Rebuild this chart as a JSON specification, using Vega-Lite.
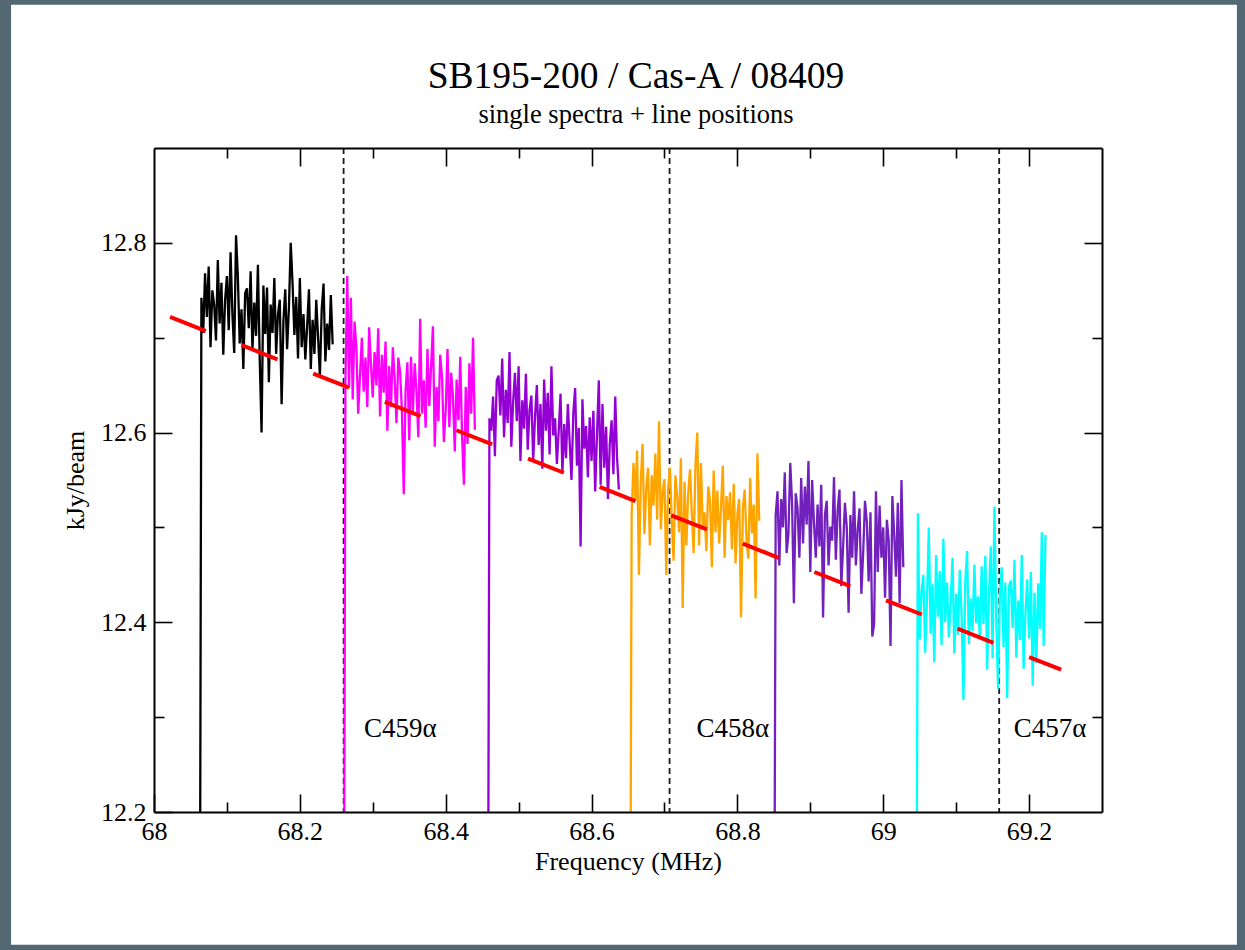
{
  "$schema": "https://vega.github.io/schema/vega-lite/v6.json",
  "width": 948,
  "height": 664,
  "autosize": {"type": "none"},
  "padding": {"left": 154, "top": 148, "right": 143, "bottom": 138},
  "background": "#526973",
  "title": {
    "text": "SB195-200 / Cas-A / 08409",
    "subtitle": "single spectra + line positions",
    "anchor": "middle",
    "font": "Liberation Serif",
    "fontSize": 37.5,
    "fontWeight": "normal",
    "color": "#000000",
    "subtitleFont": "Liberation Serif",
    "subtitleFontSize": 26.5,
    "subtitleColor": "#000000",
    "subtitlePadding": 7,
    "offset": -124,
    "dx": 8,
    "zindex": 1
  },
  "config": {
    "view": {"stroke": null},
    "axis": {
      "zindex": 1,
      "grid": false,
      "domainColor": "#000000",
      "domainWidth": 2,
      "tickColor": "#000000",
      "tickWidth": 1.6,
      "labelFont": "Liberation Serif",
      "labelFontSize": 26,
      "labelColor": "#000000",
      "labelFlush": false,
      "titleFont": "Liberation Serif",
      "titleFontSize": 26,
      "titleFontWeight": "normal",
      "titleColor": "#000000"
    }
  },
  "datasets": {
    "lines": [{"f": 68.26}, {"f": 68.707}, {"f": 69.159}],
    "fit": [{"f": 68.022, "v": 12.722}, {"f": 69.244, "v": 12.35}],
    "labels": [
      {"f": 68.288, "v": 12.279, "t": "C459α"},
      {"f": 68.744, "v": 12.279, "t": "C458α"},
      {"f": 69.179, "v": 12.279, "t": "C457α"}
    ],
    "spectra": [
      {"s":"A","f":68.0625,"v":11.9},{"s":"A","f":68.065,"v":12.742},{"s":"A","f":68.0675,"v":12.705},{"s":"A","f":68.07,"v":12.768},{"s":"A","f":68.0725,"v":12.722},{"s":"A","f":68.075,"v":12.775},{"s":"A","f":68.0775,"v":12.69},{"s":"A","f":68.08,"v":12.75},{"s":"A","f":68.0825,"v":12.735},{"s":"A","f":68.085,"v":12.697},{"s":"A","f":68.0875,"v":12.782},{"s":"A","f":68.09,"v":12.715},{"s":"A","f":68.0925,"v":12.758},{"s":"A","f":68.095,"v":12.682},{"s":"A","f":68.0975,"v":12.74},{"s":"A","f":68.1,"v":12.765},{"s":"A","f":68.1025,"v":12.708},{"s":"A","f":68.105,"v":12.79},{"s":"A","f":68.1075,"v":12.725},{"s":"A","f":68.11,"v":12.684},{"s":"A","f":68.1125,"v":12.808},{"s":"A","f":68.115,"v":12.764},{"s":"A","f":68.1175,"v":12.694},{"s":"A","f":68.12,"v":12.73},{"s":"A","f":68.1225,"v":12.667},{"s":"A","f":68.125,"v":12.747},{"s":"A","f":68.1275,"v":12.752},{"s":"A","f":68.13,"v":12.71},{"s":"A","f":68.1325,"v":12.77},{"s":"A","f":68.135,"v":12.687},{"s":"A","f":68.1375,"v":12.737},{"s":"A","f":68.14,"v":12.702},{"s":"A","f":68.1425,"v":12.777},{"s":"A","f":68.145,"v":12.677},{"s":"A","f":68.1475,"v":12.6},{"s":"A","f":68.15,"v":12.755},{"s":"A","f":68.1525,"v":12.704},{"s":"A","f":68.155,"v":12.753},{"s":"A","f":68.1575,"v":12.653},{"s":"A","f":68.16,"v":12.735},{"s":"A","f":68.1625,"v":12.705},{"s":"A","f":68.165,"v":12.763},{"s":"A","f":68.1675,"v":12.683},{"s":"A","f":68.17,"v":12.725},{"s":"A","f":68.1725,"v":12.74},{"s":"A","f":68.175,"v":12.63},{"s":"A","f":68.1775,"v":12.718},{"s":"A","f":68.18,"v":12.751},{"s":"A","f":68.1825,"v":12.688},{"s":"A","f":68.185,"v":12.731},{"s":"A","f":68.1875,"v":12.8},{"s":"A","f":68.19,"v":12.757},{"s":"A","f":68.1925,"v":12.703},{"s":"A","f":68.195,"v":12.743},{"s":"A","f":68.1975,"v":12.678},{"s":"A","f":68.2,"v":12.763},{"s":"A","f":68.2025,"v":12.69},{"s":"A","f":68.205,"v":12.725},{"s":"A","f":68.2075,"v":12.677},{"s":"A","f":68.21,"v":12.712},{"s":"A","f":68.2125,"v":12.751},{"s":"A","f":68.215,"v":12.667},{"s":"A","f":68.2175,"v":12.719},{"s":"A","f":68.22,"v":12.683},{"s":"A","f":68.2225,"v":12.74},{"s":"A","f":68.225,"v":12.7},{"s":"A","f":68.2275,"v":12.66},{"s":"A","f":68.23,"v":12.73},{"s":"A","f":68.2325,"v":12.757},{"s":"A","f":68.235,"v":12.675},{"s":"A","f":68.2375,"v":12.715},{"s":"A","f":68.24,"v":12.687},{"s":"A","f":68.2425,"v":12.745},{"s":"A","f":68.245,"v":12.693},
      {"s":"B","f":68.26,"v":11.9},{"s":"B","f":68.2625,"v":12.653},{"s":"B","f":68.265,"v":12.765},{"s":"B","f":68.2675,"v":12.647},{"s":"B","f":68.27,"v":12.742},{"s":"B","f":68.2725,"v":12.635},{"s":"B","f":68.275,"v":12.717},{"s":"B","f":68.2775,"v":12.69},{"s":"B","f":68.28,"v":12.62},{"s":"B","f":68.2825,"v":12.66},{"s":"B","f":68.285,"v":12.7},{"s":"B","f":68.2875,"v":12.643},{"s":"B","f":68.29,"v":12.679},{"s":"B","f":68.2925,"v":12.627},{"s":"B","f":68.295,"v":12.711},{"s":"B","f":68.2975,"v":12.672},{"s":"B","f":68.3,"v":12.637},{"s":"B","f":68.3025,"v":12.685},{"s":"B","f":68.305,"v":12.65},{"s":"B","f":68.3075,"v":12.71},{"s":"B","f":68.31,"v":12.617},{"s":"B","f":68.3125,"v":12.682},{"s":"B","f":68.315,"v":12.642},{"s":"B","f":68.3175,"v":12.696},{"s":"B","f":68.32,"v":12.602},{"s":"B","f":68.3225,"v":12.67},{"s":"B","f":68.325,"v":12.627},{"s":"B","f":68.3275,"v":12.69},{"s":"B","f":68.33,"v":12.657},{"s":"B","f":68.3325,"v":12.61},{"s":"B","f":68.335,"v":12.679},{"s":"B","f":68.3375,"v":12.664},{"s":"B","f":68.34,"v":12.622},{"s":"B","f":68.3425,"v":12.535},{"s":"B","f":68.345,"v":12.644},{"s":"B","f":68.3475,"v":12.674},{"s":"B","f":68.35,"v":12.592},{"s":"B","f":68.3525,"v":12.68},{"s":"B","f":68.355,"v":12.622},{"s":"B","f":68.3575,"v":12.673},{"s":"B","f":68.36,"v":12.643},{"s":"B","f":68.3625,"v":12.595},{"s":"B","f":68.365,"v":12.72},{"s":"B","f":68.3675,"v":12.62},{"s":"B","f":68.37,"v":12.655},{"s":"B","f":68.3725,"v":12.605},{"s":"B","f":68.375,"v":12.688},{"s":"B","f":68.3775,"v":12.628},{"s":"B","f":68.38,"v":12.67},{"s":"B","f":68.3825,"v":12.712},{"s":"B","f":68.385,"v":12.585},{"s":"B","f":68.3875,"v":12.648},{"s":"B","f":68.39,"v":12.612},{"s":"B","f":68.3925,"v":12.682},{"s":"B","f":68.395,"v":12.658},{"s":"B","f":68.3975,"v":12.59},{"s":"B","f":68.4,"v":12.623},{"s":"B","f":68.4025,"v":12.688},{"s":"B","f":68.405,"v":12.606},{"s":"B","f":68.4075,"v":12.663},{"s":"B","f":68.41,"v":12.638},{"s":"B","f":68.4125,"v":12.58},{"s":"B","f":68.415,"v":12.656},{"s":"B","f":68.4175,"v":12.613},{"s":"B","f":68.42,"v":12.68},{"s":"B","f":68.4225,"v":12.595},{"s":"B","f":68.425,"v":12.545},{"s":"B","f":68.4275,"v":12.648},{"s":"B","f":68.43,"v":12.588},{"s":"B","f":68.4325,"v":12.673},{"s":"B","f":68.435,"v":12.62},{"s":"B","f":68.4375,"v":12.7},{"s":"B","f":68.44,"v":12.603},
      {"s":"C","f":68.4575,"v":11.9},{"s":"C","f":68.46,"v":12.615},{"s":"C","f":68.4625,"v":12.602},{"s":"C","f":68.465,"v":12.638},{"s":"C","f":68.4675,"v":12.575},{"s":"C","f":68.47,"v":12.655},{"s":"C","f":68.4725,"v":12.66},{"s":"C","f":68.475,"v":12.618},{"s":"C","f":68.4775,"v":12.678},{"s":"C","f":68.48,"v":12.595},{"s":"C","f":68.4825,"v":12.645},{"s":"C","f":68.485,"v":12.61},{"s":"C","f":68.4875,"v":12.685},{"s":"C","f":68.49,"v":12.585},{"s":"C","f":68.4925,"v":12.633},{"s":"C","f":68.495,"v":12.663},{"s":"C","f":68.4975,"v":12.612},{"s":"C","f":68.5,"v":12.67},{"s":"C","f":68.5025,"v":12.57},{"s":"C","f":68.505,"v":12.634},{"s":"C","f":68.5075,"v":12.604},{"s":"C","f":68.51,"v":12.662},{"s":"C","f":68.5125,"v":12.582},{"s":"C","f":68.515,"v":12.624},{"s":"C","f":68.5175,"v":12.639},{"s":"C","f":68.52,"v":12.57},{"s":"C","f":68.5225,"v":12.617},{"s":"C","f":68.525,"v":12.65},{"s":"C","f":68.5275,"v":12.587},{"s":"C","f":68.53,"v":12.63},{"s":"C","f":68.5325,"v":12.562},{"s":"C","f":68.535,"v":12.656},{"s":"C","f":68.5375,"v":12.602},{"s":"C","f":68.54,"v":12.642},{"s":"C","f":68.5425,"v":12.577},{"s":"C","f":68.545,"v":12.67},{"s":"C","f":68.5475,"v":12.597},{"s":"C","f":68.55,"v":12.615},{"s":"C","f":68.5525,"v":12.567},{"s":"C","f":68.555,"v":12.602},{"s":"C","f":68.5575,"v":12.641},{"s":"C","f":68.56,"v":12.557},{"s":"C","f":68.5625,"v":12.609},{"s":"C","f":68.565,"v":12.573},{"s":"C","f":68.5675,"v":12.63},{"s":"C","f":68.57,"v":12.59},{"s":"C","f":68.5725,"v":12.55},{"s":"C","f":68.575,"v":12.62},{"s":"C","f":68.5775,"v":12.647},{"s":"C","f":68.58,"v":12.565},{"s":"C","f":68.5825,"v":12.605},{"s":"C","f":68.585,"v":12.48},{"s":"C","f":68.5875,"v":12.635},{"s":"C","f":68.59,"v":12.583},{"s":"C","f":68.5925,"v":12.607},{"s":"C","f":68.595,"v":12.553},{"s":"C","f":68.5975,"v":12.616},{"s":"C","f":68.6,"v":12.57},{"s":"C","f":68.6025,"v":12.623},{"s":"C","f":68.605,"v":12.538},{"s":"C","f":68.6075,"v":12.598},{"s":"C","f":68.61,"v":12.655},{"s":"C","f":68.6125,"v":12.545},{"s":"C","f":68.615,"v":12.63},{"s":"C","f":68.6175,"v":12.563},{"s":"C","f":68.62,"v":12.606},{"s":"C","f":68.6225,"v":12.53},{"s":"C","f":68.625,"v":12.588},{"s":"C","f":68.6275,"v":12.613},{"s":"C","f":68.63,"v":12.556},{"s":"C","f":68.6325,"v":12.638},{"s":"C","f":68.635,"v":12.573},{"s":"C","f":68.6375,"v":12.54},
      {"s":"D","f":68.6525,"v":11.9},{"s":"D","f":68.655,"v":12.513},{"s":"D","f":68.6575,"v":12.568},{"s":"D","f":68.66,"v":12.528},{"s":"D","f":68.6625,"v":12.581},{"s":"D","f":68.665,"v":12.45},{"s":"D","f":68.6675,"v":12.548},{"s":"D","f":68.67,"v":12.588},{"s":"D","f":68.6725,"v":12.493},{"s":"D","f":68.675,"v":12.541},{"s":"D","f":68.6775,"v":12.563},{"s":"D","f":68.68,"v":12.481},{"s":"D","f":68.6825,"v":12.555},{"s":"D","f":68.685,"v":12.523},{"s":"D","f":68.6875,"v":12.578},{"s":"D","f":68.69,"v":12.508},{"s":"D","f":68.6925,"v":12.612},{"s":"D","f":68.695,"v":12.498},{"s":"D","f":68.6975,"v":12.538},{"s":"D","f":68.7,"v":12.551},{"s":"D","f":68.7025,"v":12.45},{"s":"D","f":68.705,"v":12.541},{"s":"D","f":68.7075,"v":12.563},{"s":"D","f":68.71,"v":12.508},{"s":"D","f":68.7125,"v":12.465},{"s":"D","f":68.715,"v":12.555},{"s":"D","f":68.7175,"v":12.533},{"s":"D","f":68.72,"v":12.495},{"s":"D","f":68.7225,"v":12.573},{"s":"D","f":68.725,"v":12.415},{"s":"D","f":68.7275,"v":12.548},{"s":"D","f":68.73,"v":12.481},{"s":"D","f":68.7325,"v":12.535},{"s":"D","f":68.735,"v":12.561},{"s":"D","f":68.7375,"v":12.515},{"s":"D","f":68.74,"v":12.473},{"s":"D","f":68.7425,"v":12.565},{"s":"D","f":68.745,"v":12.6},{"s":"D","f":68.7475,"v":12.481},{"s":"D","f":68.75,"v":12.568},{"s":"D","f":68.7525,"v":12.501},{"s":"D","f":68.755,"v":12.516},{"s":"D","f":68.7575,"v":12.475},{"s":"D","f":68.76,"v":12.543},{"s":"D","f":68.7625,"v":12.528},{"s":"D","f":68.765,"v":12.458},{"s":"D","f":68.7675,"v":12.56},{"s":"D","f":68.77,"v":12.495},{"s":"D","f":68.7725,"v":12.539},{"s":"D","f":68.775,"v":12.483},{"s":"D","f":68.7775,"v":12.521},{"s":"D","f":68.78,"v":12.565},{"s":"D","f":68.7825,"v":12.468},{"s":"D","f":68.785,"v":12.533},{"s":"D","f":68.7875,"v":12.508},{"s":"D","f":68.79,"v":12.537},{"s":"D","f":68.7925,"v":12.477},{"s":"D","f":68.795,"v":12.546},{"s":"D","f":68.7975,"v":12.462},{"s":"D","f":68.8,"v":12.514},{"s":"D","f":68.8025,"v":12.53},{"s":"D","f":68.805,"v":12.405},{"s":"D","f":68.8075,"v":12.52},{"s":"D","f":68.81,"v":12.54},{"s":"D","f":68.8125,"v":12.487},{"s":"D","f":68.815,"v":12.467},{"s":"D","f":68.8175,"v":12.552},{"s":"D","f":68.82,"v":12.494},{"s":"D","f":68.8225,"v":12.524},{"s":"D","f":68.825,"v":12.425},{"s":"D","f":68.8275,"v":12.578},{"s":"D","f":68.83,"v":12.507},
      {"s":"E","f":68.85,"v":11.9},{"s":"E","f":68.8525,"v":12.513},{"s":"E","f":68.855,"v":12.538},{"s":"E","f":68.8575,"v":12.46},{"s":"E","f":68.86,"v":12.53},{"s":"E","f":68.8625,"v":12.5},{"s":"E","f":68.865,"v":12.558},{"s":"E","f":68.8675,"v":12.473},{"s":"E","f":68.87,"v":12.493},{"s":"E","f":68.8725,"v":12.568},{"s":"E","f":68.875,"v":12.526},{"s":"E","f":68.8775,"v":12.42},{"s":"E","f":68.88,"v":12.536},{"s":"E","f":68.8825,"v":12.52},{"s":"E","f":68.885,"v":12.468},{"s":"E","f":68.8875,"v":12.552},{"s":"E","f":68.89,"v":12.483},{"s":"E","f":68.8925,"v":12.543},{"s":"E","f":68.895,"v":12.503},{"s":"E","f":68.8975,"v":12.57},{"s":"E","f":68.9,"v":12.453},{"s":"E","f":68.9025,"v":12.55},{"s":"E","f":68.905,"v":12.506},{"s":"E","f":68.9075,"v":12.468},{"s":"E","f":68.91,"v":12.524},{"s":"E","f":68.9125,"v":12.48},{"s":"E","f":68.915,"v":12.545},{"s":"E","f":68.9175,"v":12.405},{"s":"E","f":68.92,"v":12.513},{"s":"E","f":68.9225,"v":12.528},{"s":"E","f":68.925,"v":12.46},{"s":"E","f":68.9275,"v":12.501},{"s":"E","f":68.93,"v":12.486},{"s":"E","f":68.9325,"v":12.553},{"s":"E","f":68.935,"v":12.466},{"s":"E","f":68.9375,"v":12.518},{"s":"E","f":68.94,"v":12.54},{"s":"E","f":68.9425,"v":12.438},{"s":"E","f":68.945,"v":12.48},{"s":"E","f":68.9475,"v":12.526},{"s":"E","f":68.95,"v":12.5},{"s":"E","f":68.9525,"v":12.41},{"s":"E","f":68.955,"v":12.513},{"s":"E","f":68.9575,"v":12.468},{"s":"E","f":68.96,"v":12.538},{"s":"E","f":68.9625,"v":12.46},{"s":"E","f":68.965,"v":12.498},{"s":"E","f":68.9675,"v":12.52},{"s":"E","f":68.97,"v":12.43},{"s":"E","f":68.9725,"v":12.473},{"s":"E","f":68.975,"v":12.528},{"s":"E","f":68.9775,"v":12.506},{"s":"E","f":68.98,"v":12.443},{"s":"E","f":68.9825,"v":12.516},{"s":"E","f":68.985,"v":12.385},{"s":"E","f":68.9875,"v":12.398},{"s":"E","f":68.99,"v":12.538},{"s":"E","f":68.9925,"v":12.453},{"s":"E","f":68.995,"v":12.523},{"s":"E","f":68.9975,"v":12.468},{"s":"E","f":69.0,"v":12.5},{"s":"E","f":69.0025,"v":12.426},{"s":"E","f":69.005,"v":12.508},{"s":"E","f":69.0075,"v":12.486},{"s":"E","f":69.01,"v":12.375},{"s":"E","f":69.0125,"v":12.533},{"s":"E","f":69.015,"v":12.493},{"s":"E","f":69.0175,"v":12.448},{"s":"E","f":69.02,"v":12.526},{"s":"E","f":69.0225,"v":12.42},{"s":"E","f":69.025,"v":12.55},{"s":"E","f":69.0275,"v":12.458},
      {"s":"F","f":69.045,"v":11.9},{"s":"F","f":69.0475,"v":12.515},{"s":"F","f":69.05,"v":12.382},{"s":"F","f":69.0525,"v":12.432},{"s":"F","f":69.055,"v":12.45},{"s":"F","f":69.0575,"v":12.368},{"s":"F","f":69.06,"v":12.424},{"s":"F","f":69.0625,"v":12.5},{"s":"F","f":69.065,"v":12.388},{"s":"F","f":69.0675,"v":12.44},{"s":"F","f":69.07,"v":12.358},{"s":"F","f":69.0725,"v":12.471},{"s":"F","f":69.075,"v":12.406},{"s":"F","f":69.0775,"v":12.454},{"s":"F","f":69.08,"v":12.376},{"s":"F","f":69.0825,"v":12.488},{"s":"F","f":69.085,"v":12.4},{"s":"F","f":69.0875,"v":12.442},{"s":"F","f":69.09,"v":12.384},{"s":"F","f":69.0925,"v":12.421},{"s":"F","f":69.095,"v":12.468},{"s":"F","f":69.0975,"v":12.367},{"s":"F","f":69.1,"v":12.43},{"s":"F","f":69.1025,"v":12.387},{"s":"F","f":69.105,"v":12.455},{"s":"F","f":69.1075,"v":12.407},{"s":"F","f":69.11,"v":12.318},{"s":"F","f":69.1125,"v":12.443},{"s":"F","f":69.115,"v":12.475},{"s":"F","f":69.1175,"v":12.377},{"s":"F","f":69.12,"v":12.425},{"s":"F","f":69.1225,"v":12.391},{"s":"F","f":69.125,"v":12.461},{"s":"F","f":69.1275,"v":12.399},{"s":"F","f":69.13,"v":12.427},{"s":"F","f":69.1325,"v":12.383},{"s":"F","f":69.135,"v":12.459},{"s":"F","f":69.1375,"v":12.398},{"s":"F","f":69.14,"v":12.47},{"s":"F","f":69.1425,"v":12.35},{"s":"F","f":69.145,"v":12.43},{"s":"F","f":69.1475,"v":12.48},{"s":"F","f":69.15,"v":12.362},{"s":"F","f":69.1525,"v":12.522},{"s":"F","f":69.155,"v":12.402},{"s":"F","f":69.1575,"v":12.33},{"s":"F","f":69.16,"v":12.43},{"s":"F","f":69.1625,"v":12.458},{"s":"F","f":69.165,"v":12.374},{"s":"F","f":69.1675,"v":12.442},{"s":"F","f":69.17,"v":12.32},{"s":"F","f":69.1725,"v":12.438},{"s":"F","f":69.175,"v":12.444},{"s":"F","f":69.1775,"v":12.394},{"s":"F","f":69.18,"v":12.466},{"s":"F","f":69.1825,"v":12.363},{"s":"F","f":69.185,"v":12.423},{"s":"F","f":69.1875,"v":12.381},{"s":"F","f":69.19,"v":12.471},{"s":"F","f":69.1925,"v":12.351},{"s":"F","f":69.195,"v":12.409},{"s":"F","f":69.1975,"v":12.445},{"s":"F","f":69.2,"v":12.383},{"s":"F","f":69.2025,"v":12.453},{"s":"F","f":69.205,"v":12.333},{"s":"F","f":69.2075,"v":12.431},{"s":"F","f":69.21,"v":12.357},{"s":"F","f":69.2125,"v":12.441},{"s":"F","f":69.215,"v":12.393},{"s":"F","f":69.2175,"v":12.495},{"s":"F","f":69.22,"v":12.375},{"s":"F","f":69.2225,"v":12.492}
    ]
  },
  "layer": [
    {
      "data": {"values": [{}]},
      "mark": {"type": "rect", "color": "#ffffff", "clip": false},
      "encoding": {
        "x": {"datum": 67.804, "type": "quantitative", "scale": {"domain": [68, 69.3], "nice": false, "zero": false}, "axis": null},
        "x2": {"datum": 69.485},
        "y": {"datum": 12.06, "type": "quantitative", "scale": {"domain": [12.2, 12.9], "nice": false, "zero": false},
              "axis": {"orient": "right", "values": [12.3, 12.5, 12.7], "labels": false, "domain": false, "tickSize": -10, "title": null, "zindex": 1}},
        "y2": {"datum": 13.051}
      }
    },
    {
      "data": {"name": "lines"},
      "mark": {"type": "rule", "strokeDash": [6, 4], "strokeWidth": 1.8, "color": "#1a1a1a"},
      "encoding": {
        "x": {"field": "f", "type": "quantitative", "scale": {"domain": [68, 69.3], "nice": false, "zero": false},
              "axis": {"orient": "bottom", "values": [68.1, 68.3, 68.5, 68.7, 68.9, 69.1], "labels": false, "domain": false, "tickSize": -10, "title": null, "zindex": 1}}
      }
    },
    {
      "data": {"name": "spectra"},
      "mark": {"type": "line", "strokeWidth": 2.3, "clip": true},
      "encoding": {
        "x": {"field": "f", "type": "quantitative", "scale": {"domain": [68, 69.3], "nice": false, "zero": false},
              "axis": {"orient": "bottom", "values": [68, 68.2, 68.4, 68.6, 68.8, 69, 69.2], "format": ".1~f", "tickSize": -18, "labelPadding": 24, "title": "Frequency (MHz)", "titlePadding": 4, "zindex": 1}},
        "y": {"field": "v", "type": "quantitative", "scale": {"domain": [12.2, 12.9], "nice": false, "zero": false},
              "axis": {"orient": "left", "values": [12.2, 12.4, 12.6, 12.8], "format": ".1f", "tickSize": -18, "labelPadding": 26, "title": "kJy/beam", "titlePadding": 12, "zindex": 1}},
        "color": {"field": "s", "type": "nominal", "legend": null,
                  "scale": {"domain": ["A", "B", "C", "D", "E", "F"], "range": ["#000000", "#ff00ff", "#9400d3", "#ffa500", "#7221bc", "#00ffff"]}}
      }
    },
    {
      "data": {"name": "fit"},
      "mark": {"type": "line", "color": "#ff0000", "strokeWidth": 4, "strokeDash": [38.5, 38.5]},
      "encoding": {
        "x": {"field": "f", "type": "quantitative", "scale": {"domain": [68, 69.3], "nice": false, "zero": false},
              "axis": {"orient": "top", "values": [68.2, 68.4, 68.6, 68.8, 69, 69.2], "labels": false, "tickSize": -18, "title": null, "zindex": 1}},
        "y": {"field": "v", "type": "quantitative", "scale": {"domain": [12.2, 12.9], "nice": false, "zero": false},
              "axis": {"orient": "right", "values": [12.4, 12.6, 12.8], "labels": false, "tickSize": -18, "title": null, "zindex": 1}}
      }
    },
    {
      "data": {"name": "labels"},
      "mark": {"type": "text", "align": "left", "baseline": "alphabetic", "font": "Liberation Serif", "fontSize": 27, "color": "#000000"},
      "encoding": {
        "x": {"field": "f", "type": "quantitative", "scale": {"domain": [68, 69.3], "nice": false, "zero": false},
              "axis": {"orient": "top", "values": [68.1, 68.3, 68.5, 68.7, 68.9, 69.1], "labels": false, "domain": false, "tickSize": -10, "title": null, "zindex": 1}},
        "y": {"field": "v", "type": "quantitative", "scale": {"domain": [12.2, 12.9], "nice": false, "zero": false},
              "axis": {"orient": "left", "values": [12.3, 12.5, 12.7], "labels": false, "domain": false, "tickSize": -10, "title": null, "zindex": 1}},
        "text": {"field": "t"}
      }
    }
  ],
  "resolve": {"scale": {"x": "shared", "y": "shared"}, "axis": {"x": "independent", "y": "independent"}}
}
